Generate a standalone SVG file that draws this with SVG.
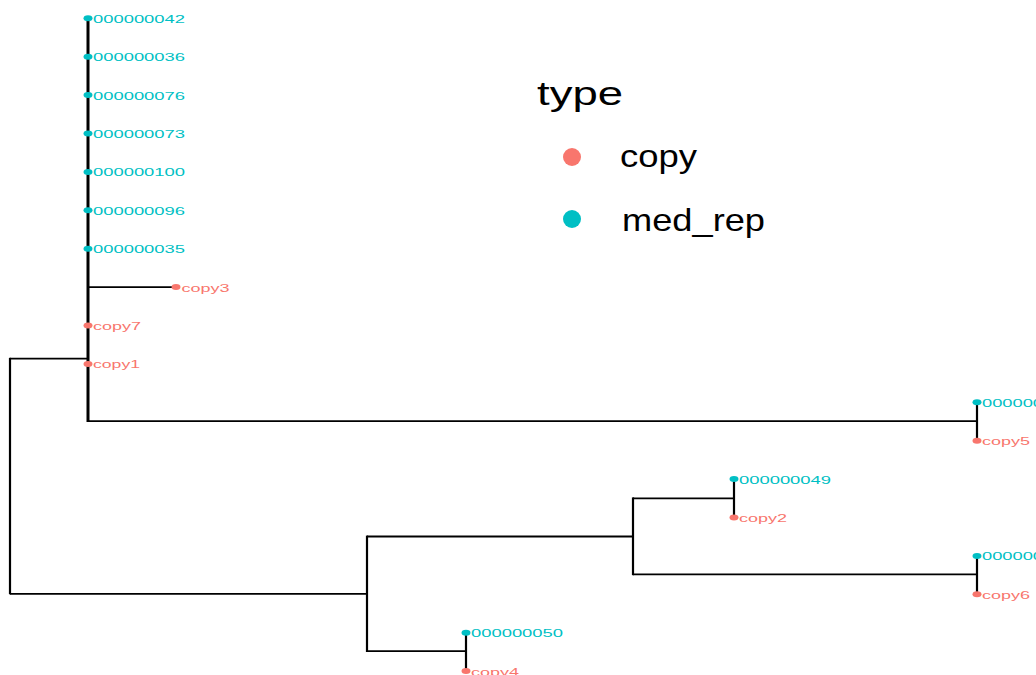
<svg xmlns="http://www.w3.org/2000/svg" width="1036" height="675" viewBox="0 0 1036 675">
  <style>
    .edge { stroke: #000; fill: none; stroke-linecap: butt; }
    .h { stroke-width: 1.8; }
    .v { stroke-width: 2.2; }
    .vm { stroke-width: 3; }
    .lab { font-family: "Liberation Sans", Arial, sans-serif; font-size: 10px; }
    .med { fill: #00BFC4; }
    .copy { fill: #F8766D; }
    .leg { font-family: "Liberation Sans", Arial, sans-serif; fill: #000; }
  </style>
  <rect width="1036" height="675" fill="#fff"/>

  <!-- branches -->
  <g id="edges">
    <!-- root -->
    <line class="edge v" x1="10" y1="357.8" x2="10" y2="594.3"/>
    <line class="edge h" x1="10" y1="358.7" x2="88" y2="358.7"/>
    <line class="edge h" x1="10" y1="593.8" x2="367" y2="593.8"/>
    <!-- upper clade -->
    <line class="edge vm" x1="88" y1="17" x2="88" y2="422"/>
    <line class="edge h" x1="88" y1="287.1" x2="176" y2="287.1"/>
    <line class="edge h" x1="88" y1="421.2" x2="977" y2="421.2"/>
    <line class="edge v" x1="977" y1="402.3" x2="977" y2="440.7"/>
    <!-- lower clade -->
    <line class="edge v" x1="367" y1="535.6" x2="367" y2="652"/>
    <line class="edge h" x1="367" y1="536.5" x2="633" y2="536.5"/>
    <line class="edge h" x1="367" y1="651.2" x2="466" y2="651.2"/>
    <line class="edge v" x1="466" y1="632.7" x2="466" y2="671.1"/>
    <line class="edge v" x1="633" y1="497.4" x2="633" y2="575.2"/>
    <line class="edge h" x1="633" y1="498.3" x2="734" y2="498.3"/>
    <line class="edge h" x1="633" y1="574.3" x2="977" y2="574.3"/>
    <line class="edge v" x1="734" y1="479.1" x2="734" y2="517.5"/>
    <line class="edge v" x1="977" y1="555.9" x2="977" y2="594.3"/>
  </g>

  <!-- tips -->
  <g id="tip-000000042"><ellipse class="med" cx="88" cy="18.3" rx="4.5" ry="3"/><text class="lab med" x="93" y="22.7" textLength="92" lengthAdjust="spacingAndGlyphs">000000042</text></g>
  <g id="tip-000000036"><ellipse class="med" cx="88" cy="56.7" rx="4.5" ry="3"/><text class="lab med" x="93" y="61.1" textLength="92" lengthAdjust="spacingAndGlyphs">000000036</text></g>
  <g id="tip-000000076"><ellipse class="med" cx="88" cy="95.1" rx="4.5" ry="3"/><text class="lab med" x="93" y="99.5" textLength="92" lengthAdjust="spacingAndGlyphs">000000076</text></g>
  <g id="tip-000000073"><ellipse class="med" cx="88" cy="133.5" rx="4.5" ry="3"/><text class="lab med" x="93" y="137.9" textLength="92" lengthAdjust="spacingAndGlyphs">000000073</text></g>
  <g id="tip-000000100"><ellipse class="med" cx="88" cy="171.9" rx="4.5" ry="3"/><text class="lab med" x="93" y="176.3" textLength="92" lengthAdjust="spacingAndGlyphs">000000100</text></g>
  <g id="tip-000000096"><ellipse class="med" cx="88" cy="210.3" rx="4.5" ry="3"/><text class="lab med" x="93" y="214.7" textLength="92" lengthAdjust="spacingAndGlyphs">000000096</text></g>
  <g id="tip-000000035"><ellipse class="med" cx="88" cy="248.7" rx="4.5" ry="3"/><text class="lab med" x="93" y="253.1" textLength="92" lengthAdjust="spacingAndGlyphs">000000035</text></g>
  <g id="tip-copy3"><ellipse class="copy" cx="176" cy="287.1" rx="4.5" ry="3"/><text class="lab copy" x="181.5" y="291.5" textLength="48" lengthAdjust="spacingAndGlyphs">copy3</text></g>
  <g id="tip-copy7"><ellipse class="copy" cx="88" cy="325.5" rx="4.5" ry="3"/><text class="lab copy" x="93" y="329.9" textLength="48" lengthAdjust="spacingAndGlyphs">copy7</text></g>
  <g id="tip-copy1"><ellipse class="copy" cx="88" cy="363.9" rx="4.5" ry="3"/><text class="lab copy" x="93" y="368.3" textLength="47" lengthAdjust="spacingAndGlyphs">copy1</text></g>
  <g id="tip-med-a"><ellipse class="med" cx="977" cy="402.3" rx="4.5" ry="3"/><text class="lab med" x="982" y="406.7" textLength="61" lengthAdjust="spacingAndGlyphs">000000</text></g>
  <g id="tip-copy5"><ellipse class="copy" cx="977" cy="440.7" rx="4.5" ry="3"/><text class="lab copy" x="982" y="445.1" textLength="48" lengthAdjust="spacingAndGlyphs">copy5</text></g>
  <g id="tip-000000049"><ellipse class="med" cx="734" cy="479.1" rx="4.5" ry="3"/><text class="lab med" x="739" y="483.5" textLength="92" lengthAdjust="spacingAndGlyphs">000000049</text></g>
  <g id="tip-copy2"><ellipse class="copy" cx="734" cy="517.5" rx="4.5" ry="3"/><text class="lab copy" x="739" y="521.9" textLength="48" lengthAdjust="spacingAndGlyphs">copy2</text></g>
  <g id="tip-med-b"><ellipse class="med" cx="977" cy="555.9" rx="4.5" ry="3"/><text class="lab med" x="982" y="560.3" textLength="61" lengthAdjust="spacingAndGlyphs">000000</text></g>
  <g id="tip-copy6"><ellipse class="copy" cx="977" cy="594.3" rx="4.5" ry="3"/><text class="lab copy" x="982" y="598.7" textLength="48" lengthAdjust="spacingAndGlyphs">copy6</text></g>
  <g id="tip-000000050"><ellipse class="med" cx="466" cy="632.7" rx="4.5" ry="3"/><text class="lab med" x="471" y="637.1" textLength="92" lengthAdjust="spacingAndGlyphs">000000050</text></g>
  <g id="tip-copy4"><ellipse class="copy" cx="466" cy="671.1" rx="4.5" ry="3"/><text class="lab copy" x="471" y="675.5" textLength="48" lengthAdjust="spacingAndGlyphs">copy4</text></g>

  <!-- legend -->
  <g id="legend">
    <text class="leg" x="537" y="105" font-size="34" textLength="86" lengthAdjust="spacingAndGlyphs">type</text>
    <circle class="copy" cx="572" cy="157" r="9"/>
    <text class="leg" x="620" y="167" font-size="32" textLength="77" lengthAdjust="spacingAndGlyphs">copy</text>
    <circle class="med" cx="572" cy="219" r="9"/>
    <text class="leg" x="622" y="231" font-size="32" textLength="143" lengthAdjust="spacingAndGlyphs">med_rep</text>
  </g>
</svg>
